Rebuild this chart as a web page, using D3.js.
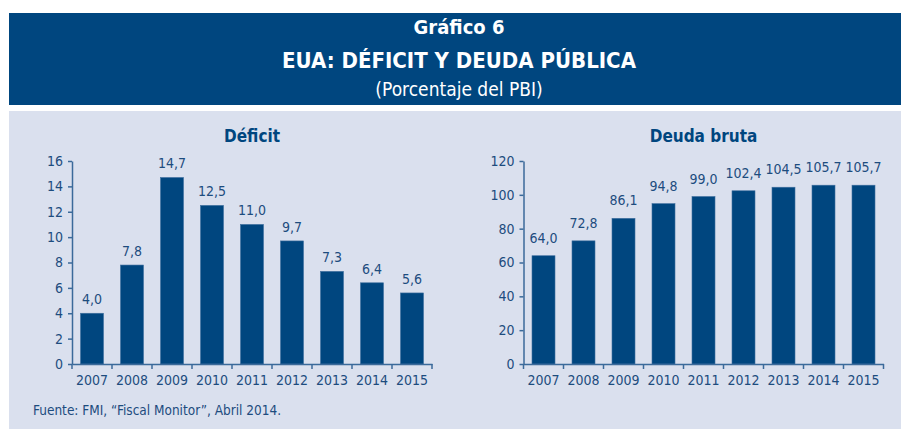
<!DOCTYPE html>
<html>
<head>
<meta charset="utf-8">
<script src="https://cdn.jsdelivr.net/npm/d3@7"></script>
<style>
  body { margin: 0; background: #fff; }
  svg text { font-family: "Liberation Sans Narrow", "DejaVu Sans Condensed", sans-serif; }
</style>
</head>
<body>
<div id="chart"></div>
<script>
//Chart data.
let years = ["2007", "2008", "2009", "2010", "2011", "2012", "2013", "2014", "2015"];
let deficit = [4.0, 7.8, 14.7, 12.5, 11.0, 9.7, 7.3, 6.4, 5.6];
let deuda = [64.0, 72.8, 86.1, 94.8, 99.0, 102.4, 104.5, 105.7, 105.7];
let deficitTicks = [0, 2, 4, 6, 8, 10, 12, 14, 16];
let deudaTicks = [0, 20, 40, 60, 80, 100, 120];

let w = 901;
let h = 429;
let dark = "#00467f";
let ink = "#1d4c7e";
let font = "'Liberation Sans Narrow', 'DejaVu Sans Condensed', sans-serif";

const svg = d3.select("#chart")
  .append("svg")
  .attr("width", w)
  .attr("height", h);

//Header band with the titles.
svg.append("rect")
  .attr("x", 9).attr("y", 13)
  .attr("width", w - 9).attr("height", 92)
  .attr("fill", dark);

svg.append("text")
  .attr("x", 459).attr("y", 34)
  .attr("text-anchor", "middle")
  .attr("fill", "#fff")
  .style("font-size", "20px").style("font-weight", "bold")
  .text("Gráfico 6");

svg.append("text")
  .attr("x", 459).attr("y", 68)
  .attr("text-anchor", "middle")
  .attr("fill", "#fff")
  .style("font-size", "22px").style("font-weight", "bold")
  .text("EUA: DÉFICIT Y DEUDA PÚBLICA");

svg.append("text")
  .attr("x", 459).attr("y", 96)
  .attr("text-anchor", "middle")
  .attr("fill", "#fff")
  .style("font-size", "19px")
  .text("(Porcentaje del PBI)");

//Light panel behind both charts.
svg.append("rect")
  .attr("x", 9).attr("y", 111)
  .attr("width", w - 9).attr("height", h - 111)
  .attr("fill", "#dae0ee");

//Draws one bar chart at the given left edge.
function drawChart(left, values, ticks, maxY, title, gap) {
  let top = 161;
  let bottom = 364;
  let width = 360;

  let x = d3.scaleBand()
    .domain(years)
    .range([left, left + width])
    .paddingInner(0.425)
    .paddingOuter(0.2125);

  let y = d3.scaleLinear()
    .domain([0, maxY])
    .range([bottom, top]);

  let g = svg.append("g");

  g.append("text")
    .attr("x", left + width / 2).attr("y", 142)
    .attr("text-anchor", "middle")
    .attr("fill", dark)
    .style("font-size", "17px").style("font-weight", "bold")
    .text(title);

  g.selectAll("rect.bar")
    .data(values)
    .enter()
    .append("rect")
    .attr("class", "bar")
    .attr("x", (d, i) => x(years[i]))
    .attr("y", d => y(d))
    .attr("width", x.bandwidth())
    .attr("height", d => bottom - y(d))
    .attr("fill", dark)
    .attr("stroke", "#3f6f9f")
    .attr("stroke-width", 0.6);

  g.selectAll("text.val")
    .data(values)
    .enter()
    .append("text")
    .attr("class", "val")
    .attr("x", (d, i) => x(years[i]) + x.bandwidth() / 2)
    .attr("y", d => y(d) - gap)
    .attr("text-anchor", "middle")
    .attr("fill", ink)
    .style("font-size", "14px")
    .text(d => d.toFixed(1).replace(".", ","));

  //Y axis with short ticks on the left.
  let yAxis = d3.axisLeft(y)
    .tickValues(ticks)
    .tickSize(4)
    .tickSizeOuter(0)
    .tickPadding(5);

  let ya = g.append("g")
    .attr("transform", "translate(" + left + ",0)")
    .call(yAxis);

  //X axis with ticks between the years.
  let xa = g.append("g")
    .attr("transform", "translate(0," + bottom + ")")
    .call(d3.axisBottom(x).tickSize(0).tickPadding(11));

  xa.selectAll(".sep")
    .data(d3.range(years.length + 1))
    .enter()
    .append("line")
    .attr("class", "sep")
    .attr("x1", i => left + i * x.step())
    .attr("x2", i => left + i * x.step())
    .attr("y1", 0).attr("y2", 5)
    .attr("stroke", "#3b6a9a")
    .attr("stroke-width", 1.5);

  [ya, xa].forEach(a => {
    a.selectAll(".domain").attr("stroke", "#3b6a9a").attr("stroke-width", 1.5);
    a.selectAll(".tick line").attr("stroke", "#3b6a9a").attr("stroke-width", 1.5);
    a.selectAll("text")
      .attr("fill", ink)
      .style("font-size", "14px")
      .style("font-family", font);
  });
}

drawChart(72, deficit, deficitTicks, 16, "Déficit", 9);
drawChart(523.5, deuda, deudaTicks, 120, "Deuda bruta", 13);

//Source note at the bottom.
svg.append("text")
  .attr("x", 33).attr("y", 415)
  .attr("fill", ink)
  .style("font-size", "13.5px")
  .text("Fuente: FMI, “Fiscal Monitor”, Abril 2014.");
</script>
</body>
</html>
